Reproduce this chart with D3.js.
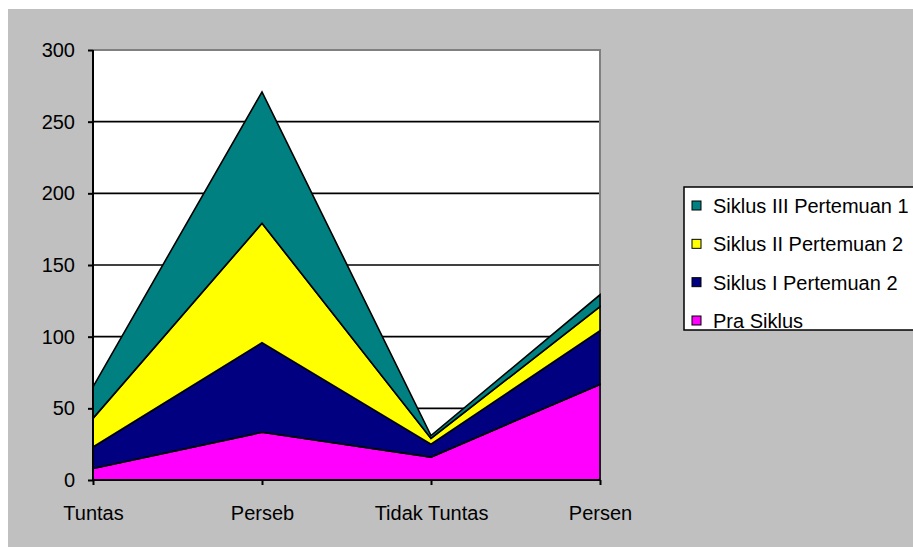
<!DOCTYPE html>
<html>
<head>
<meta charset="utf-8">
<script src="https://cdn.jsdelivr.net/npm/d3@7"></script>
<style>
  html, body { margin: 0; padding: 0; background: #fff; }
  svg text { font-family: "Liberation Sans", Arial, sans-serif; fill: #000; }
</style>
</head>
<body>
<svg id="chart" width="913" height="547"></svg>
<script>
// categories and series
var categories = ["Tuntas", "Perseb", "Tidak Tuntas", "Persen"];
var seriesNames = ["Pra Siklus", "Siklus I Pertemuan 2", "Siklus II Pertemuan 2", "Siklus III Pertemuan 1"];
var praSiklus = [8, 33.3, 16, 66.7];
var siklus1 = [15, 62.5, 9, 37.5];
var siklus2 = [20, 83.3, 4, 16.7];
var siklus3 = [22, 91.7, 2, 8.3];
var yTicks = [0, 50, 100, 150, 200, 250, 300];
var colors = ["#ff00ff", "#000080", "#ffff00", "#008080"];

var seriesValues = [praSiklus, siklus1, siklus2, siklus3];
var rows = categories.map(function(c, i) {
  var r = { cat: c };
  seriesNames.forEach(function(s, j) { r[s] = seriesValues[j][i]; });
  return r;
});

var svg = d3.select("#chart");
var m = { top: 50, right: 313, bottom: 67, left: 93 },
    w = 913 - m.left - m.right,
    h = 547 - m.top - m.bottom;

// outer chart area
svg.append("rect")
  .attr("x", 8).attr("y", 9)
  .attr("width", 905).attr("height", 538)
  .attr("fill", "#c0c0c0");

var g = svg.append("g").attr("transform", "translate(" + m.left + "," + m.top + ")");

var x = d3.scalePoint().domain(categories).range([0, w]);
var y = d3.scaleLinear().domain([0, 300]).range([h, 0]);

// plot area
g.append("rect").attr("width", w).attr("height", h).attr("fill", "#fff");

// gridlines
g.selectAll(".grid")
  .data(yTicks.filter(function(t) { return t > 0 && t < 300; }))
  .enter().append("line")
  .attr("x1", 0).attr("x2", w)
  .attr("y1", function(d) { return y(d); })
  .attr("y2", function(d) { return y(d); })
  .attr("stroke", "#000").attr("stroke-width", 1.6);

// plot border top/right (gray)
g.append("path")
  .attr("d", "M0," + y(300) + "H" + w + "V" + h)
  .attr("fill", "none").attr("stroke", "#808080").attr("stroke-width", 2);

var stack = d3.stack().keys(seriesNames);
var layers = stack(rows);

var area = d3.area()
  .x(function(d) { return x(d.data.cat); })
  .y0(function(d) { return y(d[0]); })
  .y1(function(d) { return y(d[1]); });

g.selectAll(".layer")
  .data(layers)
  .enter().append("path")
  .attr("d", area)
  .attr("fill", function(d, i) { return colors[i]; })
  .attr("stroke", "#000")
  .attr("stroke-width", 1.6)
  .attr("stroke-linejoin", "miter");

// axes
var yAxis = d3.axisLeft(y).tickValues(yTicks).tickSize(5).tickPadding(13);
var xAxis = d3.axisBottom(x).tickSize(5).tickPadding(21);

var ya = g.append("g").call(yAxis);
var xa = g.append("g").attr("transform", "translate(0," + h + ")").call(xAxis);

[ya, xa].forEach(function(a) {
  a.select(".domain").attr("stroke", "#000").attr("stroke-width", 2);
  a.selectAll(".tick line").attr("stroke", "#000").attr("stroke-width", 2);
  a.selectAll("text").style("font-size", "20px").attr("fill", "#000");
});
xa.select(".domain").attr("d", "M0,0H" + w);
ya.select(".domain").attr("d", "M0," + h + "V0");

// legend
var legend = svg.append("g").attr("transform", "translate(684,187)");
legend.append("rect")
  .attr("width", 240).attr("height", 143)
  .attr("fill", "#fff").attr("stroke", "#000").attr("stroke-width", 1.5);

var legendItems = seriesNames.slice().reverse();
var ly = d3.scalePoint().domain(legendItems).range([19, 134]);

var li = legend.selectAll(".li")
  .data(legendItems)
  .enter().append("g")
  .attr("transform", function(d) { return "translate(0," + ly(d) + ")"; });

li.append("rect")
  .attr("x", 8).attr("y", -5)
  .attr("width", 9).attr("height", 9)
  .attr("fill", function(d) { return colors[seriesNames.indexOf(d)]; })
  .attr("stroke", "#000").attr("stroke-width", 1);

li.append("text")
  .attr("x", 29).attr("y", 7)
  .style("font-size", "20px")
  .text(function(d) { return d; });
</script>
</body>
</html>
